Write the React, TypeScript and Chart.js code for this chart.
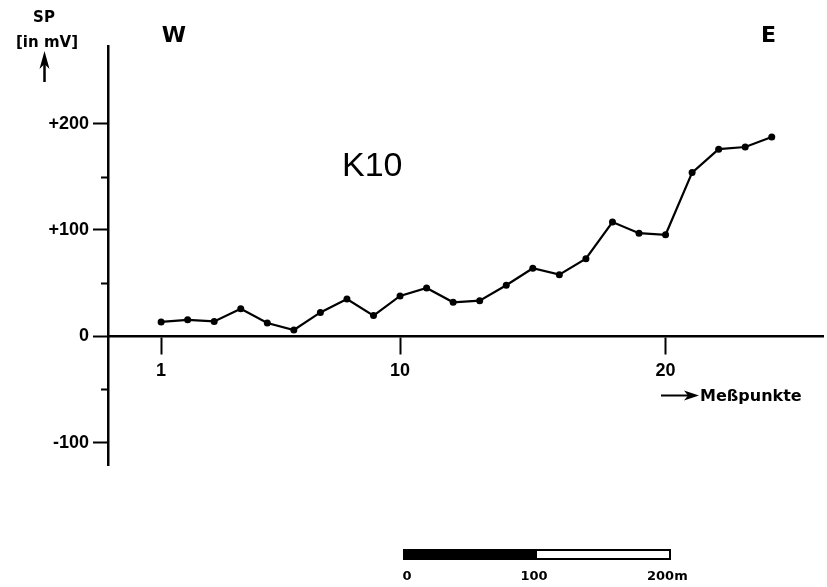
import React, { useEffect, useRef } from "react";
import { Chart, registerables } from "chart.js";

Chart.register(...registerables);

// Measurement points (Meßpunkte) along profile K10, W -> E
const points = [1, 2, 3, 4, 5, 6, 7, 8, 9, 10, 11, 12, 13, 14, 15, 16, 17, 18, 19, 20, 21, 22, 23, 24];
// Self-potential SP in mV
const spValues = [13.5, 15.5, 14, 26, 12.5, 6, 22.5, 35, 19.5, 38, 45.5, 32, 33.5, 48, 64, 58, 73, 107.5, 97, 95.5, 154, 176, 178, 187.5];

const yTickValues = [-100, 0, 100, 200];
const yTickLabels = ["-100", "0", "+100", "+200"];
const yMinorTicks = [-50, 50, 150];
const xTickValues = [1, 10, 20];
const xTickLabels = ["1", "10", "20"];
const scaleBarLabels = ["0", "100", "200m"];

const SANS = "'Liberation Sans', Arial, sans-serif";
const DEJAVU = "'DejaVu Sans', sans-serif";

const decorations = {
  id: "decorations",
  afterDraw(chart: any) {
    const ctx = chart.ctx as CanvasRenderingContext2D;
    const yScale = chart.scales.y;
    ctx.save();
    ctx.fillStyle = "#000";
    ctx.strokeStyle = "#000";

    // minor y ticks
    ctx.lineWidth = 2;
    const axisX = yScale.right;
    yMinorTicks.forEach((v) => {
      const py = Math.round(yScale.getPixelForValue(v)) + 0.5;
      ctx.beginPath();
      ctx.moveTo(axisX - 7, py);
      ctx.lineTo(axisX, py);
      ctx.stroke();
    });

    // axis title "SP [in mV]" with arrow
    ctx.textAlign = "center";
    ctx.textBaseline = "alphabetic";
    ctx.font = `bold 15px ${DEJAVU}`;
    ctx.fillText("SP", 44, 22);
    ctx.font = `bold 15px ${DEJAVU}`;
    ctx.fillText("[in mV]", 47, 47);
    ctx.lineWidth = 2.5;
    ctx.beginPath();
    ctx.moveTo(44.5, 82);
    ctx.lineTo(44.5, 62);
    ctx.stroke();
    ctx.beginPath();
    ctx.moveTo(44.5, 51);
    ctx.lineTo(39.5, 69);
    ctx.lineTo(44.5, 64);
    ctx.lineTo(49.5, 69);
    ctx.closePath();
    ctx.fill();

    // W / E
    ctx.font = `bold 22px ${DEJAVU}`;
    ctx.textAlign = "center";
    ctx.fillText("W", 174, 42);
    ctx.textAlign = "left";
    ctx.fillText("E", 761, 42);

    // profile name
    ctx.font = `34px ${SANS}`;
    ctx.textAlign = "left";
    ctx.fillText("K10", 342, 176);

    // x-axis title with arrow
    ctx.lineWidth = 2;
    ctx.beginPath();
    ctx.moveTo(661, 395.5);
    ctx.lineTo(690, 395.5);
    ctx.stroke();
    ctx.beginPath();
    ctx.moveTo(699, 395.5);
    ctx.lineTo(684, 390.5);
    ctx.lineTo(688, 395.5);
    ctx.lineTo(684, 400.5);
    ctx.closePath();
    ctx.fill();
    ctx.font = `bold 16px ${DEJAVU}`;
    ctx.textAlign = "left";
    ctx.fillText("Meßpunkte", 700, 401);

    // scale bar
    ctx.lineWidth = 2;
    ctx.fillRect(403, 549, 134, 10);
    ctx.strokeRect(404, 550, 266, 9);
    ctx.font = `bold 13px ${DEJAVU}`;
    ctx.textAlign = "center";
    ctx.fillText(scaleBarLabels[0], 407, 580);
    ctx.fillText(scaleBarLabels[1], 534, 580);
    ctx.textAlign = "left";
    ctx.fillText(scaleBarLabels[2], 647, 580);

    ctx.restore();
  },
};

export default function App() {
  const canvasRef = useRef<HTMLCanvasElement | null>(null);

  useEffect(() => {
    const canvas = canvasRef.current;
    if (!canvas) return;
    const chart = new Chart(canvas, {
      type: "line",
      data: {
        datasets: [
          {
            data: points.map((p, i) => ({ x: p, y: spValues[i] })),
            borderColor: "#000",
            backgroundColor: "#000",
            borderWidth: 2.2,
            pointRadius: 3.5,
            pointBackgroundColor: "#000",
            pointBorderWidth: 0,
            tension: 0,
          },
        ],
      },
      options: {
        animation: false,
        responsive: false,
        events: [],
        layout: { padding: { top: 46, bottom: 122, left: 0, right: 0 } },
        plugins: { legend: { display: false }, tooltip: { enabled: false } },
        scales: {
          x: {
            type: "linear",
            min: -1,
            max: 25.93,
            position: { y: 0 } as any,
            afterBuildTicks: (s: any) => {
              s.ticks = xTickValues.map((v) => ({ value: v }));
            },
            ticks: {
              autoSkip: false,
              maxRotation: 0,
              color: "#000",
              font: { family: SANS, size: 18, weight: "bold" },
              padding: 7,
              callback: (v: any) => {
                const i = xTickValues.indexOf(Number(v));
                return i >= 0 ? xTickLabels[i] : "";
              },
            },
            grid: {
              drawOnChartArea: false,
              drawTicks: true,
              tickLength: 17,
              tickWidth: 2,
              tickColor: "#000",
              color: "#000",
            },
            border: { display: true, color: "#000", width: 2.5 },
          },
          y: {
            type: "linear",
            min: -121,
            max: 273,
            position: "left",
            afterBuildTicks: (s: any) => {
              s.ticks = yTickValues.map((v) => ({ value: v }));
            },
            afterFit: (s: any) => {
              s.width = 108;
            },
            ticks: {
              color: "#000",
              font: { family: SANS, size: 18, weight: "bold" },
              padding: 4,
              callback: (v: any) => {
                const i = yTickValues.indexOf(Number(v));
                return i >= 0 ? yTickLabels[i] : "";
              },
            },
            grid: {
              drawOnChartArea: false,
              drawTicks: true,
              tickLength: 15,
              tickWidth: 2,
              tickColor: "#000",
              color: "#000",
            },
            border: { display: true, color: "#000", width: 2.5 },
          },
        },
      },
      plugins: [decorations],
    });
    return () => chart.destroy();
  }, []);

  return (
    <div style={{ position: "absolute", left: 0, top: 0, width: 827, height: 587, background: "#fff" }}>
      <canvas ref={canvasRef} width={827} height={587} style={{ display: "block" }} />
    </div>
  );
}
